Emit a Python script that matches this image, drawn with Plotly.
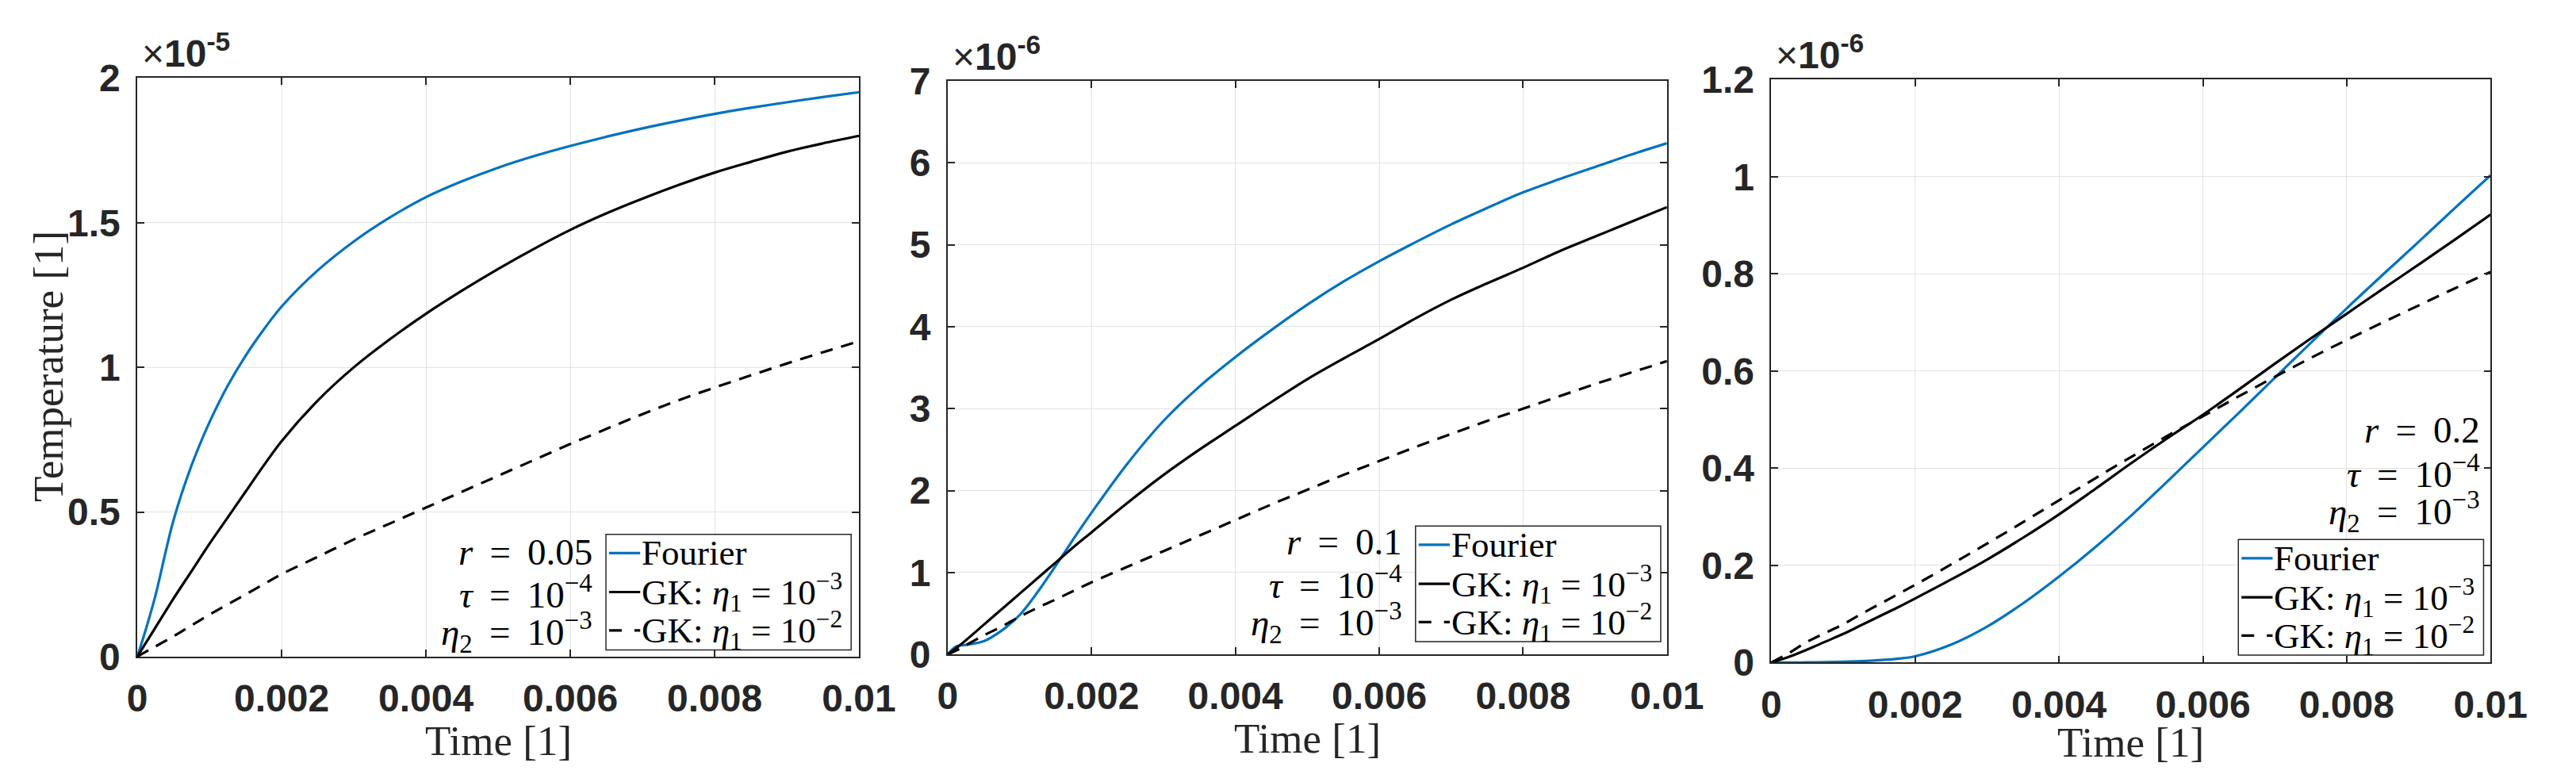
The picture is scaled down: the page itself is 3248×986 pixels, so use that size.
import plotly.graph_objects as go

# time grid [1]
time = [0, 0.000125, 0.00025, 0.0005, 0.00075, 0.001, 0.00125, 0.0015, 0.00175, 0.002,
        0.0025, 0.003, 0.0035, 0.004, 0.0045, 0.005, 0.0055, 0.006, 0.0065, 0.007,
        0.0075, 0.008, 0.0085, 0.009, 0.0095, 0.01]

# r = 0.05, temperature in units of 1e-5
fourier_r005 = [0, 0.10, 0.21, 0.47, 0.66, 0.81, 0.935, 1.04, 1.13, 1.21,
                1.335, 1.435, 1.518, 1.588, 1.643, 1.69, 1.73, 1.765, 1.797, 1.826,
                1.852, 1.876, 1.897, 1.916, 1.934, 1.951]
gk3_r005 = [0, 0.05, 0.10, 0.20, 0.295, 0.39, 0.48, 0.57, 0.66, 0.745,
            0.885, 1.0, 1.097, 1.185, 1.265, 1.34, 1.41, 1.475, 1.532, 1.583,
            1.63, 1.673, 1.71, 1.745, 1.774, 1.80]
gk2_r005 = [0, 0.018, 0.035, 0.07, 0.108, 0.145, 0.18, 0.215, 0.25, 0.285,
            0.345, 0.405, 0.46, 0.515, 0.57, 0.625, 0.68, 0.735, 0.787, 0.838,
            0.886, 0.93, 0.972, 1.013, 1.052, 1.09]

# r = 0.1, temperature in units of 1e-6
fourier_r01 = [0, 0.10, 0.115, 0.16, 0.29, 0.48, 0.76, 1.08, 1.41, 1.73,
               2.33, 2.85, 3.27, 3.63, 3.96, 4.27, 4.55, 4.80, 5.03, 5.25,
               5.45, 5.64, 5.80, 5.95, 6.10, 6.24]
gk3_r01 = [0, 0.08, 0.17, 0.36, 0.55, 0.74, 0.93, 1.12, 1.31, 1.49,
           1.85, 2.19, 2.50, 2.79, 3.08, 3.36, 3.61, 3.85, 4.10, 4.33,
           4.53, 4.72, 4.92, 5.10, 5.28, 5.46]
gk2_r01 = [0, 0.05, 0.11, 0.23, 0.34, 0.46, 0.57, 0.67, 0.775, 0.88,
           1.07, 1.26, 1.45, 1.64, 1.83, 2.01, 2.19, 2.36, 2.53, 2.69,
           2.85, 3.00, 3.15, 3.30, 3.44, 3.58]

# r = 0.2, temperature in units of 1e-6
fourier_r02 = [0, 0, 0, 0.0005, 0.001, 0.002, 0.003, 0.005, 0.008, 0.013,
               0.037, 0.074, 0.122, 0.177, 0.237, 0.302, 0.372, 0.443, 0.514, 0.586,
               0.658, 0.729, 0.798, 0.866, 0.935, 1.003]
gk3_r02 = [0, 0.006, 0.012, 0.027, 0.043, 0.059, 0.077, 0.095, 0.113, 0.132,
           0.171, 0.212, 0.257, 0.305, 0.357, 0.41, 0.461, 0.51, 0.562, 0.615,
           0.667, 0.718, 0.769, 0.819, 0.87, 0.922]
gk2_r02 = [0, 0.01, 0.02, 0.043, 0.061, 0.079, 0.10, 0.12, 0.14, 0.16,
           0.202, 0.245, 0.289, 0.334, 0.379, 0.423, 0.466, 0.507, 0.548, 0.588,
           0.627, 0.664, 0.70, 0.735, 0.77, 0.804]

legend_names = ["Fourier",
                "GK: <i>η</i><sub>1</sub>\u00a0=\u00a010<sup>−3</sup>",
                "GK: <i>η</i><sub>1</sub>\u00a0=\u00a010<sup>−2</sup>"]
r_labels = ["0.05", "0.1", "0.2"]
exponents = ["-5", "-6", "-6"]
y_ranges = [[0, 2], [0, 7], [0, 1.2]]
y_dticks = [0.5, 1, 0.2]

W, H = 3248, 986
blue = "#0072BD"
black = "#000000"
axcol = "#262626"
serif = "Liberation Serif"
sans = "Liberation Sans"
DASH = "16px,11px"
EQ = "\u00a0\u2009=\u2009\u00a0"

# panel boxes in pixels: left, right, top, bottom
boxes = [(155, 1082, 68, 839), (1196, 2120, 72, 836), (2254, 3178, 70, 847)]


def px(x):
    return x / W


def py(y):
    return 1 - y / H


panels = [(fourier_r005, gk3_r005, gk2_r005),
          (fourier_r01, gk3_r01, gk2_r01),
          (fourier_r02, gk3_r02, gk2_r02)]
styles = [(blue, "solid"), (black, "solid"), (black, DASH)]

fig = go.Figure()

for i, series in enumerate(panels):
    n = "" if i == 0 else str(i + 1)
    for vals, (col, dash), name in zip(series, styles, legend_names):
        fig.add_trace(go.Scatter(
            x=time, y=vals, mode="lines", name=name, showlegend=False,
            line=dict(color=col, width=3.2, dash=dash, shape="spline", smoothing=1.0),
            xaxis="x" + n, yaxis="y" + n,
        ))

    l, r, t, b = boxes[i]
    common = dict(
        showline=True, mirror="allticks", linecolor=axcol, linewidth=1.5,
        ticks="inside", ticklen=9, tickcolor=axcol, tickwidth=1.5,
        showgrid=True, gridcolor="#e2e2e2", gridwidth=1, zeroline=False,
        tickfont=dict(family=sans, size=48, color=axcol, weight="bold"),
    )
    fig.update_layout({
        "xaxis" + n: dict(domain=[px(l), px(r)], anchor="y" + n, range=[0, 0.01],
                          dtick=0.002, ticklabelstandoff=10, **common),
        "yaxis" + n: dict(domain=[py(b), py(t)], anchor="x" + n, range=y_ranges[i],
                          dtick=y_dticks[i], ticklabelstandoff=10, **common),
    })

shapes = []
annotations = []

# hand-drawn legend boxes, matching the compact layout of the original
legend_w, legend_h = 315, 154
row_offsets = [25, 77, 128]
legend_pos = [(1072, 830), (2112, 819), (3169, 837)]  # right, bottom in pixels
for lx, ly in legend_pos:
    L, T = lx - legend_w, ly - legend_h
    shapes.append(dict(type="rect", xref="paper", yref="paper",
                       x0=px(L), x1=px(lx), y0=py(ly), y1=py(T),
                       line=dict(color=axcol, width=1.5), fillcolor="white", layer="above"))
    for (col, dash), name, dy in zip(styles, legend_names, row_offsets):
        shapes.append(dict(type="line", xref="paper", yref="paper",
                           x0=px(L + 4), x1=px(L + 44), y0=py(T + dy), y1=py(T + dy),
                           line=dict(color=col, width=3.2,
                                     dash="16px,16px" if dash != "solid" else "solid"),
                           layer="above"))
        annotations.append(dict(
            x=px(L + 44), y=py(T + dy), xref="paper", yref="paper", text=name,
            showarrow=False, xanchor="left", yanchor="middle",
            font=dict(family=serif, size=45, color="black"),
        ))

# parameter text blocks: right edge and row centres in pixels
param_pos = [(742, [700, 753, 806]), (1782, [686, 740, 794]), (3167, [537, 592, 646])]
for i, (rx, rows) in enumerate(param_pos):
    texts = ["<i>r</i>" + EQ + r_labels[i],
             "<i>τ</i>" + EQ + "10<sup>−4</sup>",
             "<i>η</i><sub>2</sub>" + EQ + "10<sup>−3</sup>"]
    for txt, ry in zip(texts, rows):
        annotations.append(dict(
            x=px(rx), y=py(ry), xref="paper", yref="paper", text=txt, showarrow=False,
            xanchor="right", yanchor="middle",
            font=dict(family=serif, size=47, color="black"),
        ))

for i, (l, r, t, b) in enumerate(boxes):
    # exponent multiplier above each axis
    annotations.append(dict(
        x=px(l + 4), y=py(t - 2), xref="paper", yref="paper",
        text="×<b>10<sup>" + exponents[i] + "</sup></b>", showarrow=False,
        xanchor="left", yanchor="bottom",
        font=dict(family=sans, size=48, color=axcol),
    ))
    # x-axis title
    annotations.append(dict(
        x=px((l + r) / 2), y=py(min(b + 112, 953)), xref="paper", yref="paper",
        text="Time [1]", showarrow=False, xanchor="center", yanchor="middle",
        font=dict(family=serif, size=53, color=axcol),
    ))

annotations.append(dict(
    x=px(40), y=py(452), xref="paper", yref="paper", text="Temperature [1]",
    showarrow=False, textangle=-90, xanchor="center", yanchor="middle",
    font=dict(family=serif, size=53, color=axcol),
))

fig.update_layout(
    width=W, height=H, margin=dict(l=0, r=0, t=0, b=0),
    plot_bgcolor="white", paper_bgcolor="white",
    shapes=shapes, annotations=annotations, showlegend=False,
)

fig.write_html("out.html")
